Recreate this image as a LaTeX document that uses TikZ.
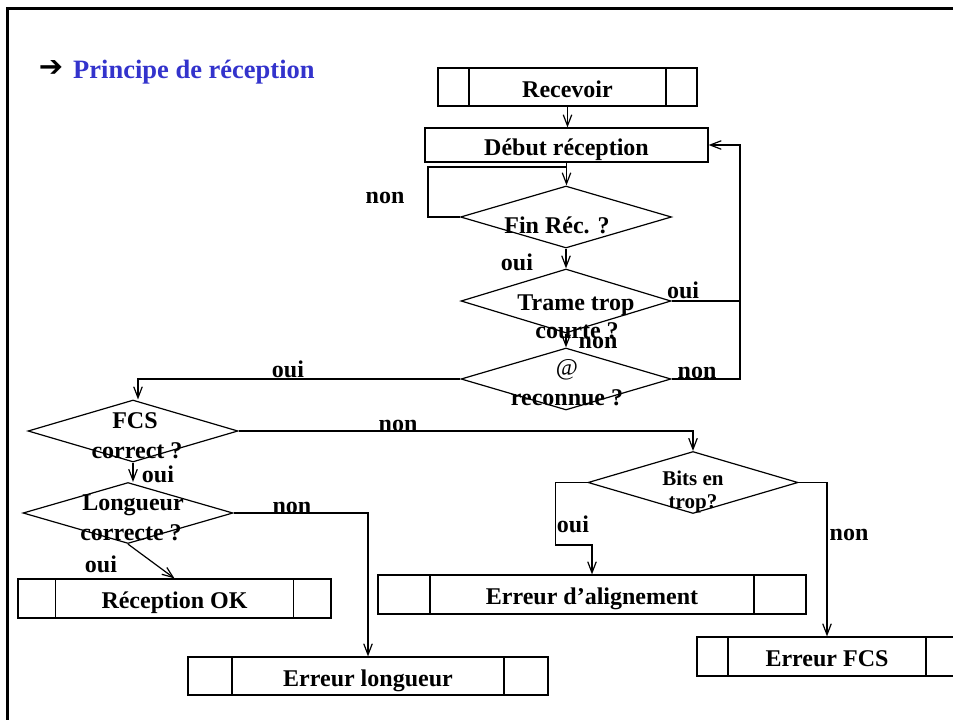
\documentclass[tikz,border=0pt]{standalone}
\usepackage{fontspec}
\setmainfont{Liberation Serif}
\newfontfamily\symfont{DejaVu Sans Bold}
\usetikzlibrary{shapes.geometric,arrows.meta}
\definecolor{titleblue}{RGB}{51,51,204}
\begin{document}
\begin{tikzpicture}[x=1pt,y=-1pt,
  every node/.style={font=\fontsize{24}{26}\selectfont\bfseries},
  conn/.style={line width=1.2pt},
  arr/.style={conn,-{Straight Barb[length=11pt,width=8.5pt]}},
  dia/.style={draw,line width=1.2pt,shape=diamond,inner sep=0pt,
              minimum width=210pt,minimum height=62pt},
  box/.style={draw,line width=1.2pt,rectangle,inner sep=0pt,
              text height=20pt,text depth=0pt},
  sub/.style={box,path picture={
      \draw[line width=1.2pt]
        ([xshift=#1]path picture bounding box.north west) --
        ([xshift=#1]path picture bounding box.south west);
      \draw[line width=1.2pt]
        ([xshift=-#1]path picture bounding box.north east) --
        ([xshift=-#1]path picture bounding box.south east);}},
  lbl/.style={anchor=base,inner sep=0pt},
  small/.style={font=\fontsize{21}{23}\selectfont\bfseries},
]
\useasboundingbox (0,0) rectangle (953,720);

% page frame
\draw[line width=3pt] (7,725) -- (7,8) -- (960,8);

% heading
\node[inner sep=0pt,font=\fontsize{29}{30}\selectfont] (bullet) at (51,68) {\symfont ➔};
\node[anchor=base west,inner sep=0pt,text=titleblue,
      font=\fontsize{26.5}{28}\selectfont\bfseries] (title) at (73,78) {Principe de réception};

% blocks
\node[sub=31pt,minimum width=259pt,minimum height=38pt] (rcv) at (567.5,87) {Recevoir};
\node[box,minimum width=283pt,minimum height=34pt] (deb) at (566.5,145) {Début réception};
\node[dia,minimum width=211pt] (fin) at (566,217) {};
\node[dia,minimum height=64pt] (trame) at (566,301) {};
\node[dia] (at) at (566,379) {};
\node[dia] (fcs) at (133,431) {};
\node[dia,minimum height=61pt] (lng) at (128,513) {};
\node[dia] (bits) at (693,482.5) {};
\node[sub=37.5pt,minimum width=313pt,minimum height=39pt] (ok) at (174.5,598.5) {Réception OK};
\node[sub=44pt,minimum width=360pt,minimum height=38pt] (elg) at (368,676) {Erreur longueur};
\node[sub=52pt,minimum width=428pt,minimum height=39pt] (eal) at (592,594.5) {Erreur d’alignement};
\node[sub=31pt,minimum width=260pt,minimum height=39pt] (efcs) at (827,656.5) {Erreur FCS};

% texts inside the decisions
\node[lbl] (tfin) at (557,233) {Fin Réc. ?};
\node[lbl] (ttr1) at (576,310) {Trame trop};
\node[lbl] (ttr2) at (577,338) {courte ?};
\node[lbl,font=\fontsize{24}{26}\selectfont\mdseries] (tat1) at (567,375) {@};
\node[lbl] (tat2) at (567,405) {reconnue ?};
\node[lbl] (tfc1) at (135,428) {FCS};
\node[lbl] (tfc2) at (137,458) {correct ?};
\node[lbl] (tlg1) at (133,510) {Longueur};
\node[lbl] (tlg2) at (131,540) {correcte ?};
\node[lbl,small] (tbt1) at (693,485) {Bits en};
\node[lbl,small] (tbt2) at (693,508) {trop?};

% connectors
\coordinate (loopend) at (566.5,167);
\coordinate (rj) at (740,301);
\draw[arr] (rcv.south) -- (rcv.south |- deb.north);
\draw[arr] (deb.south) -- (deb.south |- fin.north);
\draw[conn] (fin.west) -- ++(-32,0) |- (loopend);
\draw[arr] (fin.south) -- (trame.north);
\draw[arr] (trame.east) -- (rj) |- (deb.east);
\draw[arr] (trame.south) -- (at.north);
\draw[conn] (at.east) -| (rj);
\draw[arr] (at.west) -| ([xshift=5pt]fcs.north);
\draw[arr] (fcs.east) -| (bits.north);
\draw[arr] (fcs.south) -- (fcs.south |- lng.north);
\draw[arr] (lng.east) -| (elg.north);
\draw[arr] (lng.south) -- (ok.north);
\draw[arr] (bits.west) -- ++(-32,0) -- ++(0,62.5) -| (eal.north);
\draw[arr] (bits.east) -| (efcs.north);

% branch labels
\node[lbl] (n1) at (385,203) {non};
\node[lbl] (o1) at (517,270) {oui};
\node[lbl] (o2) at (683,298) {oui};
\node[lbl] (n2) at (598,348) {non};
\node[lbl] (n3) at (697,378) {non};
\node[lbl] (o3) at (288,377) {oui};
\node[lbl] (n4) at (398,431) {non};
\node[lbl] (o4) at (158,482) {oui};
\node[lbl] (n5) at (292,513) {non};
\node[lbl] (o5) at (101,572) {oui};
\node[lbl] (o6) at (573,532) {oui};
\node[lbl] (n6) at (849,540) {non};
\end{tikzpicture}
\end{document}
